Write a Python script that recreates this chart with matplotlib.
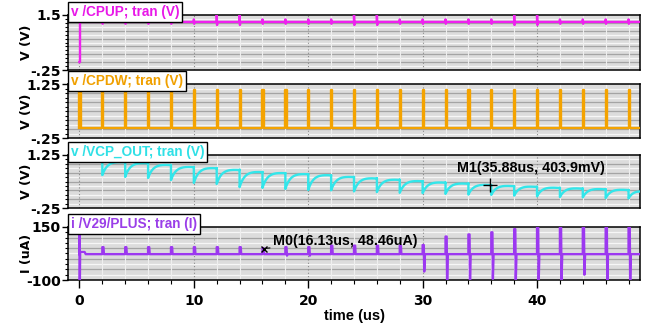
import numpy as np
import matplotlib
matplotlib.use("Agg")
import matplotlib.pyplot as plt
from matplotlib.ticker import MultipleLocator

# ---------------- data ----------------
t_end = 49.0
pulse_t = [2, 4, 6, 8, 10, 12, 14, 16, 18, 20, 22, 24,
           26, 28, 30, 32, 34, 36, 38, 40, 42, 44, 46, 48]

# v(/CPUP)
cpup_start = 0.0
cpup_level = 1.28
cpup_spike_hi = [1.36, 1.36, 1.36, 1.36, 1.36, 1.52, 1.52, 1.36, 1.36, 1.36, 1.36, 1.52,
                 1.52, 1.36, 1.36, 1.36, 1.36, 1.36, 1.52, 1.52, 1.36, 1.36, 1.36, 1.36]
cpup_spike_lo = [1.22, 1.22, 1.22, 1.22, 1.22, 1.18, 1.18, 1.22, 1.22, 1.22, 1.22, 1.18,
                 1.18, 1.22, 1.22, 1.22, 1.22, 1.22, 1.18, 1.18, 1.22, 1.22, 1.22, 1.22]

# v(/CPDW)
cpdw_pulse_t = [0] + pulse_t
cpdw_low = 0.03
cpdw_high = 1.08

# v(/VCP_OUT): level just before each pulse and bottom of each dip
vcp_top = [1.11, 1.05, 1.02, 0.97, 0.91, 0.88, 0.83, 0.77, 0.74, 0.71, 0.68, 0.63,
           0.59, 0.55, 0.51, 0.47, 0.44, 0.40, 0.37, 0.35, 0.32, 0.30, 0.28, 0.26]
vcp_dip = [0.68, 0.63, 0.60, 0.54, 0.46, 0.43, 0.34, 0.32, 0.29, 0.26, 0.25, 0.22,
           0.20, 0.18, 0.17, 0.15, 0.13, 0.12, 0.10, 0.08, 0.06, 0.05, 0.03, 0.02]
vcp_end = 0.25

# i(/V29/PLUS) in uA
i_base = 22.0
i_start_hi, i_start_lo, i_start_plateau = 200.0, -150.0, 32.0
i_hi = [55, 55, 55, 55, 55, 55, 55, 50, 55, 55, 62, 62,
        62, 62, 65, 105, 115, 125, 140, 150, 155, 165, 165, 175]
i_lo = [22, 22, 22, 22, 22, 22, 22, 22, 15, 15, 22, 22,
        22, 22, -60, -120, -110, -95, -110, -120, -110, -75, -110, -110]

m1 = (35.88, 0.4039)
m0 = (16.13, 48.46)

# ---------------- build waveform point lists ----------------
def cpup_wave():
    t = [0.0, 0.05, 0.05]
    v = [cpup_start, cpup_start, cpup_level]
    for tp, hi, lo in zip(pulse_t, cpup_spike_hi, cpup_spike_lo):
        t += [tp, tp, tp + 0.03, tp + 0.06]
        v += [cpup_level, hi, lo, cpup_level]
    t.append(t_end)
    v.append(cpup_level)
    return t, v

def cpdw_wave():
    t, v = [], []
    for tp in cpdw_pulse_t:
        t += [tp, tp, tp + 0.1, tp + 0.1]
        v += [cpdw_low, cpdw_high, cpdw_high, cpdw_low]
    t.append(t_end)
    v.append(cpdw_low)
    return t, v

def vcp_wave():
    t, v = [], []
    n = len(pulse_t)
    for k, tp in enumerate(pulse_t):
        tn = pulse_t[k + 1] if k + 1 < n else t_end
        target = vcp_top[k + 1] if k + 1 < n else vcp_end
        tt = np.linspace(tp, tn, 80)
        over = 0.06 * (1 - (tt - tp) / (tn - tp))
        vv = target + over + (vcp_dip[k] - target - 0.06) * np.exp(-(tt - tp) / 0.45)
        t += [tp] + list(tt)
        v += [vcp_top[k]] + list(vv)
    return t, v

def i_wave():
    t = [0.0, 0.0, 0.03, 0.06, 0.06, 0.45, 0.55]
    v = [i_base, i_start_hi, i_start_lo, i_start_plateau, i_start_plateau,
         i_start_plateau, i_base]
    for tp, hi, lo in zip(pulse_t, i_hi, i_lo):
        t += [tp, tp, tp + 0.1, tp + 0.14, tp + 0.2]
        v += [i_base, hi, hi, lo, i_base]
    t.append(t_end)
    v.append(i_base)
    return t, v

# ---------------- figure ----------------
W, H = 647, 324
fig = plt.figure(figsize=(W / 100, H / 100), dpi=100)
fig.patch.set_facecolor("white")

L, R = 68 / W, 640 / W
panels_px = [(15, 70), (84, 138), (155, 208), (227, 280)]
axes = []
for top, bot in panels_px:
    axes.append(fig.add_axes([L, 1 - bot / H, R - L, (bot - top) / H]))

specs = [
    dict(wave=cpup_wave, color="#ee22ee", title="v /CPUP; tran (V)", tcolor="#e818e8",
         ylim=(-0.25, 1.5), ylab=["-.25", "1.5"], ystep=0.25, ylabel="V (V)"),
    dict(wave=cpdw_wave, color="#f4a300", title="v /CPDW; tran (V)", tcolor="#f0a000",
         ylim=(-0.25, 1.25), ylab=["-.25", "1.25"], ystep=0.25, ylabel="V (V)"),
    dict(wave=vcp_wave, color="#33e6ea", title="v /VCP_OUT; tran (V)", tcolor="#2fe0e6",
         ylim=(-0.25, 1.25), ylab=["-.25", "1.25"], ystep=0.25, ylabel="V (V)"),
    dict(wave=i_wave, color="#9c38f0", title="i /V29/PLUS; tran (I)", tcolor="#9a3ee8",
         ylim=(-100, 150), ylab=["-100", "150"], ystep=50, ylabel="I (uA)"),
]

tick_font = dict(family="DejaVu Sans", weight="bold", size=10)
xlim = (-1.0, 49.0)

for ax, sp in zip(axes, specs):
    ax.set_facecolor("#dcdcdc")
    ax.set_xlim(*xlim)
    lo, hi = sp["ylim"]
    ax.set_ylim(lo, hi)
    step = sp["ystep"]
    # horizontal stripes: dark at major steps, white half-way
    y = lo
    while y < hi - 1e-9:
        if y > lo + 1e-9:
            ax.axhline(y, color="#a4a4a4", lw=0.9, zorder=0.5)
        ax.axhline(y + step / 2, color="#f6f6f6", lw=0.9, zorder=0.5)
        y += step
    # vertical grid
    for xv in np.arange(2, 49, 2):
        if xv % 10 == 0:
            ax.axvline(xv, color="#8a8a8a", lw=0.8, ls=(0, (1, 2)), zorder=0.6)
        else:
            ax.axvline(xv, color="#efefef", lw=0.8, zorder=0.6)
    ax.axvline(0, color="#8a8a8a", lw=0.8, ls=(0, (1, 2)), zorder=0.6)

    t, v = sp["wave"]()
    ax.plot(t, v, color=sp["color"], lw=1.7, zorder=3, clip_on=True)

    ax.set_yticks([lo, hi])
    ax.set_yticklabels(sp["ylab"], fontdict=tick_font)
    ax.yaxis.set_minor_locator(MultipleLocator(step / 2))
    ax.tick_params(axis="y", which="major", direction="out", length=4, width=1, pad=1)
    ax.tick_params(axis="y", which="minor", direction="out", length=2.5, width=0.8)
    ax.set_ylabel(sp["ylabel"], fontdict=dict(family="DejaVu Sans", weight="bold", size=9))
    ax.yaxis.set_label_coords(-0.062, 0.5)
    for s in ax.spines.values():
        s.set_linewidth(1.1)
        s.set_color("black")
    ax.annotate(sp["title"], xy=(0.0, 1.0), xycoords="axes fraction",
                xytext=(2.2, -3.0), textcoords="offset points",
                ha="left", va="bottom",
                color=sp["tcolor"], fontsize=9.8, fontweight="bold",
                family=["Liberation Sans", "DejaVu Sans"], zorder=10, annotation_clip=False,
                bbox=dict(boxstyle="square,pad=0.2", fc="white", ec="black", lw=1.0))

for ax in axes[:-1]:
    ax.set_xticks([])
    ax.tick_params(axis="x", which="both", length=0)

axb = axes[-1]
axb.set_xticks([0, 10, 20, 30, 40])
axb.set_xticklabels(["0", "10", "20", "30", "40"], fontdict=tick_font)
axb.xaxis.set_minor_locator(MultipleLocator(2))
axb.tick_params(axis="x", which="major", direction="out", length=6, width=1, pad=4)
axb.tick_params(axis="x", which="minor", direction="out", length=3, width=0.8)
axb.set_xlabel("time (us)", fontdict=dict(family=["Liberation Sans", "DejaVu Sans"],
                                          weight="bold", size=10.5), labelpad=1)

# markers
ax3 = axes[2]
ax3.plot([m1[0]], [m1[1]], marker="+", color="black", ms=10, mew=1.0, zorder=6)
ax3.text(33.0, 0.88, "M1(35.88us, 403.9mV)", color="black", fontsize=10.3,
         fontweight="bold", family=["Liberation Sans", "DejaVu Sans"], va="center",
         ha="left", zorder=7)

ax4 = axes[3]
ax4.plot([m0[0]], [m0[1]], marker="x", color="black", ms=4, mew=1.0, zorder=6)
ax4.annotate("M0(16.13us, 48.46uA)", xy=m0, xytext=(16.9, 85), color="black",
             fontsize=10.3, fontweight="bold", family=["Liberation Sans", "DejaVu Sans"],
             va="center", ha="left", zorder=7,
             arrowprops=dict(arrowstyle="-", color="black", lw=0.8, shrinkA=0, shrinkB=0))

fig.savefig("out.png", dpi=100)
